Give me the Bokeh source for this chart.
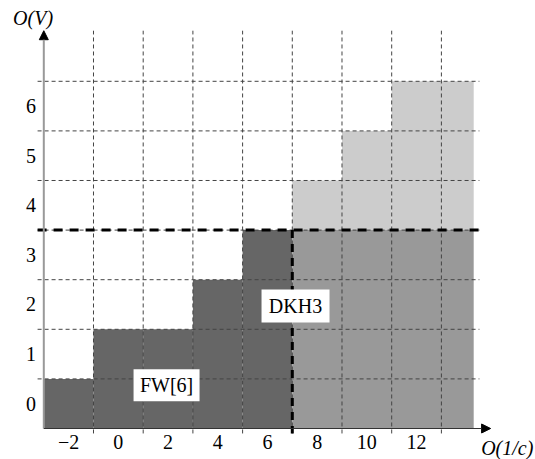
from bokeh.plotting import figure
from bokeh.models import Range1d, Arrow, NormalHead
from bokeh.core.properties import value
from bokeh.embed import file_html
from bokeh.resources import INLINE

# ---------------- data ----------------
x_ticks = [-2, 0, 2, 4, 6, 8, 10, 12]
x_tick_labels = ["\u22122", "0", "2", "4", "6", "8", "10", "12"]
y_ticks = [0, 1, 2, 3, 4, 5, 6]
y_tick_labels = ["0", "1", "2", "3", "4", "5", "6"]

fw_x = [-2, 0, 2, 4, 6]          # FW[6] columns
fw_level = [0, 1, 1, 2, 3]       # highest O(V) order per column
dkh_x = [8, 10, 12]              # DKH3 columns above the cut
dkh_level = [4, 5, 6]
cut_x = 7                        # boundary between FW[6] and DKH3
cut_level = 3                    # DKH3 full up to this order
x_last = 14.3                    # right end of the data region

box_labels = ["FW[6]", "DKH3"]
box_x = [1.94, 7.13]
box_y = [0.37, 1.97]

FONT = value("Liberation Serif")

# ---------------- figure ----------------
p = figure(width=535, height=459,
           x_range=Range1d(-4.7425, 16.787), y_range=Range1d(-1.125, 8.129),
           output_backend="svg", toolbar_location=None,
           x_axis_location=None, y_axis_location=None,
           min_border=0, outline_line_color=None,
           background_fill_color="white", border_fill_color="white")
p.xgrid.visible = False
p.ygrid.visible = False

base = -0.5
# FW[6] dark staircase
p.quad(left=[x - 1 for x in fw_x], right=[x + 1 for x in fw_x],
       bottom=[base] * len(fw_x), top=[l + 0.5 for l in fw_level],
       fill_color="#666666", line_color=None)
# DKH3 block up to cut level
p.quad(left=[cut_x], right=[x_last], bottom=[base], top=[cut_level + 0.5],
       fill_color="#999999", line_color=None)
# light staircase above cut
p.quad(left=[x - 1 for x in dkh_x],
       right=[x + 1 for x in dkh_x[:-1]] + [x_last],
       bottom=[cut_level + 0.5] * len(dkh_x), top=[l + 0.5 for l in dkh_level],
       fill_color="#cccccc", line_color=None)

# grid
gx = [t + 1 for t in x_ticks]
p.segment(x0=gx, y0=[-0.6] * len(gx), x1=gx, y1=[7.52] * len(gx),
          line_color="#444444", line_width=1, line_dash="4 3")
gy = [t + 0.5 for t in y_ticks]
p.segment(x0=[-3.25] * len(gy), y0=gy, x1=[14.53] * len(gy), y1=gy,
          line_color="#444444", line_width=1, line_dash="4 3")

# thick dashed cut lines
p.segment(x0=[-3.25], y0=[cut_level + 0.5], x1=[14.53], y1=[cut_level + 0.5],
          line_color="black", line_width=3, line_dash="9 7")
p.segment(x0=[cut_x], y0=[cut_level + 0.5], x1=[cut_x], y1=[-0.6],
          line_color="black", line_width=3, line_dash="8 6")

# axes
p.add_layout(Arrow(end=NormalHead(size=9, fill_color="black", line_color="black"),
                   x_start=-3, y_start=base, x_end=-3, y_end=7.52,
                   line_color="#999999", line_width=2))
p.add_layout(Arrow(end=NormalHead(size=9, fill_color="black", line_color="black"),
                   x_start=-3, y_start=base, x_end=14.98, y_end=base,
                   line_color="#333333", line_width=1.2))

# label boxes
p.rect(x=box_x, y=box_y, width=[66, 68], height=[32, 33],
       width_units="screen", height_units="screen",
       fill_color="white", line_color=None)
p.text(x=box_x, y=box_y, text=box_labels, text_align="center",
       text_baseline="middle", text_font=FONT, text_font_size="20px",
       text_color="black")

# tick labels
p.text(x=x_ticks, y=[-0.77] * len(x_ticks), text=x_tick_labels,
       text_align="center", text_baseline="middle", text_font=FONT,
       text_font_size="20px", text_color="black")
p.text(x=[-3.52] * len(y_ticks), y=y_ticks, text=y_tick_labels,
       text_align="center", text_baseline="middle", text_font=FONT,
       text_font_size="20px", text_color="black")

# axis titles
p.text(x=[-3.43], y=[7.78], text=["O(V)"], text_align="center",
       text_baseline="middle", text_font=FONT, text_font_style="italic",
       text_font_size="20px", text_color="black")
p.text(x=[16.7], y=[-0.89], text=["O(1/c)"], text_align="right",
       text_baseline="middle", text_font=FONT, text_font_style="italic",
       text_font_size="20px", text_color="black")

open("out.html", "w").write(file_html(p, INLINE))
